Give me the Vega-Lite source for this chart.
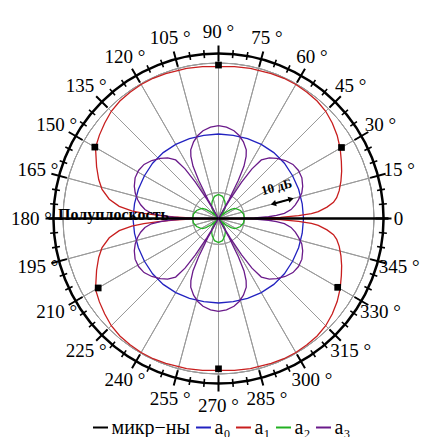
{
  "$schema": "https://vega.github.io/schema/vega-lite/v6.json",
  "width": 400,
  "height": 400,
  "autosize": {"type": "none"},
  "padding": {"left": 18.5, "top": 18.5, "right": 18.5, "bottom": 18.5},
  "background": "white",
  "config": {
    "view": {"stroke": null},
    "legend": {
      "orient": "none", "legendX": 72, "legendY": 399, "direction": "horizontal",
      "symbolType": "stroke", "symbolSize": 225, "symbolStrokeWidth": 2,
      "labelFont": "Liberation Serif", "labelFontSize": 20, "labelColor": "black",
      "labelOffset": 1, "columnPadding": 1, "padding": 0
    }
  },
  "datasets": {
    "rings": [{"v": -50}, {"v": -40}, {"v": -30}, {"v": -20}, {"v": -10}, {"v": 0}],
    "lab": [
      {"a": 0, "t": "0"}, {"a": 15, "t": "15 °"}, {"a": 30, "t": "30 °"}, {"a": 45, "t": "45 °"},
      {"a": 60, "t": "60 °"}, {"a": 75, "t": "75 °"}, {"a": 90, "t": "90 °"}, {"a": 105, "t": "105 °"},
      {"a": 120, "t": "120 °"}, {"a": 135, "t": "135 °"}, {"a": 150, "t": "150 °"}, {"a": 165, "t": "165 °"},
      {"a": 180, "t": "180 °"}, {"a": 195, "t": "195 °"}, {"a": 210, "t": "210 °"}, {"a": 225, "t": "225 °"},
      {"a": 240, "t": "240 °"}, {"a": 255, "t": "255 °"}, {"a": 270, "t": "270 °"}, {"a": 285, "t": "285 °"},
      {"a": 300, "t": "300 °"}, {"a": 315, "t": "315 °"}, {"a": 330, "t": "330 °"}, {"a": 345, "t": "345 °"}
    ],
    "minor": [
      {"a": 5}, {"a": 10}, {"a": 20}, {"a": 25}, {"a": 35}, {"a": 40}, {"a": 50}, {"a": 55},
      {"a": 65}, {"a": 70}, {"a": 80}, {"a": 85}, {"a": 95}, {"a": 100}, {"a": 110}, {"a": 115},
      {"a": 125}, {"a": 130}, {"a": 140}, {"a": 145}, {"a": 155}, {"a": 160}, {"a": 170}, {"a": 175},
      {"a": 185}, {"a": 190}, {"a": 200}, {"a": 205}, {"a": 215}, {"a": 220}, {"a": 230}, {"a": 235},
      {"a": 245}, {"a": 250}, {"a": 260}, {"a": 265}, {"a": 275}, {"a": 280}, {"a": 290}, {"a": 295},
      {"a": 305}, {"a": 310}, {"a": 320}, {"a": 325}, {"a": 335}, {"a": 340}, {"a": 350}, {"a": 355}
    ],
    "mics": [
      {"a": 30, "v": -5.2}, {"a": 90, "v": -0.8}, {"a": 150, "v": -4.9},
      {"a": 210, "v": -6.4}, {"a": 270, "v": -2.0}, {"a": 330, "v": -6.9}
    ],
    "curves": [
      {"s":"a₀","a":0,"v":-27.2},{"s":"a₀","a":10,"v":-27.2},{"s":"a₀","a":20,"v":-27.1},{"s":"a₀","a":30,"v":-27.0},
      {"s":"a₀","a":40,"v":-26.8},{"s":"a₀","a":50,"v":-26.8},{"s":"a₀","a":60,"v":-27.0},{"s":"a₀","a":70,"v":-27.2},
      {"s":"a₀","a":80,"v":-27.4},{"s":"a₀","a":90,"v":-27.4},{"s":"a₀","a":100,"v":-27.4},{"s":"a₀","a":110,"v":-27.2},
      {"s":"a₀","a":120,"v":-27.0},{"s":"a₀","a":130,"v":-26.8},{"s":"a₀","a":140,"v":-26.8},{"s":"a₀","a":150,"v":-27.0},
      {"s":"a₀","a":160,"v":-27.1},{"s":"a₀","a":170,"v":-27.1},{"s":"a₀","a":180,"v":-27.0},{"s":"a₀","a":190,"v":-27.1},
      {"s":"a₀","a":200,"v":-27.1},{"s":"a₀","a":210,"v":-27.0},{"s":"a₀","a":220,"v":-26.8},{"s":"a₀","a":230,"v":-26.8},
      {"s":"a₀","a":240,"v":-27.0},{"s":"a₀","a":250,"v":-27.2},{"s":"a₀","a":260,"v":-27.4},{"s":"a₀","a":270,"v":-27.4},
      {"s":"a₀","a":280,"v":-27.4},{"s":"a₀","a":290,"v":-27.2},{"s":"a₀","a":300,"v":-27.0},{"s":"a₀","a":310,"v":-26.8},
      {"s":"a₀","a":320,"v":-26.8},{"s":"a₀","a":330,"v":-27.0},{"s":"a₀","a":340,"v":-27.1},{"s":"a₀","a":350,"v":-27.2},
      {"s":"a₀","a":360,"v":-27.2},

      {"s":"a₁","a":0,"v":-60},{"s":"a₁","a":0.5,"v":-44.6},{"s":"a₁","a":1,"v":-36.1},{"s":"a₁","a":2,"v":-29.1},
      {"s":"a₁","a":3,"v":-24.1},{"s":"a₁","a":4,"v":-21.4},{"s":"a₁","a":6,"v":-17.9},{"s":"a₁","a":8,"v":-15.2},
      {"s":"a₁","a":10,"v":-13.7},{"s":"a₁","a":13,"v":-12.2},{"s":"a₁","a":17,"v":-10.6},{"s":"a₁","a":21,"v":-9.1},
      {"s":"a₁","a":25,"v":-7.7},{"s":"a₁","a":30,"v":-5.8},{"s":"a₁","a":35,"v":-4.1},{"s":"a₁","a":40,"v":-2.7},
      {"s":"a₁","a":45,"v":-1.5},{"s":"a₁","a":50,"v":-0.8},{"s":"a₁","a":55,"v":-0.5},{"s":"a₁","a":60,"v":-0.3},
      {"s":"a₁","a":65,"v":-0.3},{"s":"a₁","a":70,"v":-0.5},{"s":"a₁","a":78,"v":-0.8},{"s":"a₁","a":84,"v":-1.1},
      {"s":"a₁","a":90,"v":-1.4},{"s":"a₁","a":96,"v":-1.1},{"s":"a₁","a":102,"v":-0.8},{"s":"a₁","a":110,"v":-0.5},
      {"s":"a₁","a":115,"v":-0.3},{"s":"a₁","a":120,"v":-0.3},{"s":"a₁","a":125,"v":-0.5},{"s":"a₁","a":130,"v":-0.8},
      {"s":"a₁","a":135,"v":-1.5},{"s":"a₁","a":140,"v":-2.7},{"s":"a₁","a":145,"v":-3.9},{"s":"a₁","a":150,"v":-5.2},
      {"s":"a₁","a":157,"v":-8.9},{"s":"a₁","a":162,"v":-11.4},{"s":"a₁","a":166,"v":-13.7},{"s":"a₁","a":170,"v":-17.2},
      {"s":"a₁","a":173,"v":-21.4},{"s":"a₁","a":175,"v":-26.4},{"s":"a₁","a":176,"v":-31.1},{"s":"a₁","a":177,"v":-36.9},
      {"s":"a₁","a":178,"v":-42.6},{"s":"a₁","a":179,"v":-50.4},{"s":"a₁","a":180,"v":-60},{"s":"a₁","a":181,"v":-50.4},
      {"s":"a₁","a":182,"v":-42.6},{"s":"a₁","a":183,"v":-36.9},{"s":"a₁","a":184,"v":-31.1},{"s":"a₁","a":185,"v":-26.4},
      {"s":"a₁","a":187,"v":-21.4},{"s":"a₁","a":190,"v":-17.2},{"s":"a₁","a":194,"v":-13.7},{"s":"a₁","a":198,"v":-11.4},
      {"s":"a₁","a":203,"v":-8.9},{"s":"a₁","a":210,"v":-5.2},{"s":"a₁","a":215,"v":-3.9},{"s":"a₁","a":220,"v":-2.7},
      {"s":"a₁","a":225,"v":-1.5},{"s":"a₁","a":230,"v":-0.8},{"s":"a₁","a":235,"v":-0.5},{"s":"a₁","a":240,"v":-0.3},
      {"s":"a₁","a":245,"v":-0.3},{"s":"a₁","a":250,"v":-0.5},{"s":"a₁","a":258,"v":-0.8},{"s":"a₁","a":264,"v":-1.1},
      {"s":"a₁","a":270,"v":-1.4},{"s":"a₁","a":276,"v":-1.1},{"s":"a₁","a":282,"v":-0.8},{"s":"a₁","a":290,"v":-0.5},
      {"s":"a₁","a":295,"v":-0.3},{"s":"a₁","a":300,"v":-0.3},{"s":"a₁","a":305,"v":-0.5},{"s":"a₁","a":310,"v":-0.8},
      {"s":"a₁","a":315,"v":-1.5},{"s":"a₁","a":320,"v":-2.7},{"s":"a₁","a":325,"v":-4.1},{"s":"a₁","a":330,"v":-5.8},
      {"s":"a₁","a":335,"v":-7.7},{"s":"a₁","a":339,"v":-9.1},{"s":"a₁","a":343,"v":-10.6},{"s":"a₁","a":347,"v":-12.2},
      {"s":"a₁","a":350,"v":-13.7},{"s":"a₁","a":352,"v":-15.2},{"s":"a₁","a":354,"v":-17.9},{"s":"a₁","a":356,"v":-21.4},
      {"s":"a₁","a":357,"v":-24.1},{"s":"a₁","a":358,"v":-29.1},{"s":"a₁","a":359,"v":-36.1},{"s":"a₁","a":359.5,"v":-44.6},
      {"s":"a₁","a":360,"v":-60},

      {"s":"a₂","a":0,"v":-50.0},{"s":"a₂","a":10,"v":-50.2},{"s":"a₂","a":20,"v":-51.0},{"s":"a₂","a":28,"v":-52.1},
      {"s":"a₂","a":32,"v":-52.7},{"s":"a₂","a":36,"v":-54.0},{"s":"a₂","a":40,"v":-56.1},{"s":"a₂","a":43,"v":-58.1},
      {"s":"a₂","a":45,"v":-60},{"s":"a₂","a":48,"v":-58.8},{"s":"a₂","a":52,"v":-56.9},{"s":"a₂","a":58,"v":-55.0},
      {"s":"a₂","a":63,"v":-54.2},{"s":"a₂","a":70,"v":-52.9},{"s":"a₂","a":80,"v":-51.3},{"s":"a₂","a":90,"v":-50.7},
      {"s":"a₂","a":100,"v":-51.3},{"s":"a₂","a":110,"v":-52.9},{"s":"a₂","a":117,"v":-54.2},{"s":"a₂","a":122,"v":-55.0},
      {"s":"a₂","a":128,"v":-56.9},{"s":"a₂","a":132,"v":-58.8},{"s":"a₂","a":135,"v":-60},{"s":"a₂","a":137,"v":-58.1},
      {"s":"a₂","a":140,"v":-56.1},{"s":"a₂","a":144,"v":-54.0},{"s":"a₂","a":148,"v":-52.7},{"s":"a₂","a":152,"v":-52.1},
      {"s":"a₂","a":160,"v":-51.0},{"s":"a₂","a":170,"v":-50.2},{"s":"a₂","a":180,"v":-50.0},{"s":"a₂","a":190,"v":-50.2},
      {"s":"a₂","a":200,"v":-51.0},{"s":"a₂","a":208,"v":-52.1},{"s":"a₂","a":212,"v":-52.7},{"s":"a₂","a":216,"v":-54.0},
      {"s":"a₂","a":220,"v":-56.1},{"s":"a₂","a":223,"v":-58.1},{"s":"a₂","a":225,"v":-60},{"s":"a₂","a":228,"v":-58.8},
      {"s":"a₂","a":232,"v":-56.9},{"s":"a₂","a":238,"v":-55.0},{"s":"a₂","a":243,"v":-54.2},{"s":"a₂","a":250,"v":-52.9},
      {"s":"a₂","a":260,"v":-51.3},{"s":"a₂","a":270,"v":-50.7},{"s":"a₂","a":280,"v":-51.3},{"s":"a₂","a":290,"v":-52.9},
      {"s":"a₂","a":297,"v":-54.2},{"s":"a₂","a":302,"v":-55.0},{"s":"a₂","a":308,"v":-56.9},{"s":"a₂","a":312,"v":-58.8},
      {"s":"a₂","a":315,"v":-60},{"s":"a₂","a":317,"v":-58.1},{"s":"a₂","a":320,"v":-56.1},{"s":"a₂","a":324,"v":-54.0},
      {"s":"a₂","a":328,"v":-52.7},{"s":"a₂","a":332,"v":-52.1},{"s":"a₂","a":340,"v":-51.0},{"s":"a₂","a":350,"v":-50.2},
      {"s":"a₂","a":360,"v":-50.0},

      {"s":"a₃","a":0,"v":-60},{"s":"a₃","a":0.5,"v":-51.5},{"s":"a₃","a":1,"v":-46.1},{"s":"a₃","a":2,"v":-40.7},
      {"s":"a₃","a":3,"v":-37.6},{"s":"a₃","a":4.5,"v":-34.5},{"s":"a₃","a":7,"v":-31.8},{"s":"a₃","a":10,"v":-29.9},
      {"s":"a₃","a":13,"v":-28.4},{"s":"a₃","a":17,"v":-26.4},{"s":"a₃","a":21,"v":-25.2},{"s":"a₃","a":26,"v":-24.2},
      {"s":"a₃","a":31,"v":-24.0},{"s":"a₃","a":36,"v":-24.5},{"s":"a₃","a":41,"v":-25.9},{"s":"a₃","a":46,"v":-27.7},
      {"s":"a₃","a":50,"v":-29.5},{"s":"a₃","a":53.8,"v":-32.0},{"s":"a₃","a":56,"v":-36.9},{"s":"a₃","a":57.5,"v":-43.4},
      {"s":"a₃","a":59,"v":-51.5},{"s":"a₃","a":60,"v":-60},{"s":"a₃","a":61,"v":-51.5},{"s":"a₃","a":62.5,"v":-43.4},
      {"s":"a₃","a":64,"v":-37.6},{"s":"a₃","a":66,"v":-33.8},{"s":"a₃","a":68,"v":-31.4},{"s":"a₃","a":72,"v":-28.9},
      {"s":"a₃","a":76,"v":-27.0},{"s":"a₃","a":80,"v":-25.6},{"s":"a₃","a":85,"v":-24.6},{"s":"a₃","a":90,"v":-24.2},
      {"s":"a₃","a":95,"v":-24.6},{"s":"a₃","a":100,"v":-25.6},{"s":"a₃","a":104,"v":-27.0},{"s":"a₃","a":108,"v":-28.9},
      {"s":"a₃","a":112,"v":-31.4},{"s":"a₃","a":114,"v":-33.8},{"s":"a₃","a":116,"v":-37.6},{"s":"a₃","a":117.5,"v":-43.4},
      {"s":"a₃","a":119,"v":-51.5},{"s":"a₃","a":120,"v":-60},{"s":"a₃","a":121,"v":-51.5},{"s":"a₃","a":122.5,"v":-43.4},
      {"s":"a₃","a":124,"v":-36.9},{"s":"a₃","a":126.2,"v":-32.0},{"s":"a₃","a":130,"v":-29.5},{"s":"a₃","a":134,"v":-27.7},
      {"s":"a₃","a":139,"v":-25.9},{"s":"a₃","a":144,"v":-24.5},{"s":"a₃","a":149,"v":-24.0},{"s":"a₃","a":154,"v":-24.2},
      {"s":"a₃","a":159,"v":-25.2},{"s":"a₃","a":163,"v":-26.4},{"s":"a₃","a":167,"v":-28.0},{"s":"a₃","a":170,"v":-29.5},
      {"s":"a₃","a":173,"v":-31.4},{"s":"a₃","a":175.5,"v":-34.0},{"s":"a₃","a":177,"v":-37.6},{"s":"a₃","a":178,"v":-40.7},
      {"s":"a₃","a":179,"v":-46.1},{"s":"a₃","a":179.5,"v":-51.5},{"s":"a₃","a":180,"v":-60},{"s":"a₃","a":180.5,"v":-51.5},
      {"s":"a₃","a":181,"v":-46.1},{"s":"a₃","a":182,"v":-40.7},{"s":"a₃","a":183,"v":-37.6},{"s":"a₃","a":184.5,"v":-34.0},
      {"s":"a₃","a":187,"v":-31.4},{"s":"a₃","a":190,"v":-29.5},{"s":"a₃","a":193,"v":-28.0},{"s":"a₃","a":197,"v":-26.4},
      {"s":"a₃","a":201,"v":-25.2},{"s":"a₃","a":206,"v":-24.2},{"s":"a₃","a":211,"v":-24.0},{"s":"a₃","a":216,"v":-24.5},
      {"s":"a₃","a":221,"v":-25.9},{"s":"a₃","a":226,"v":-27.7},{"s":"a₃","a":230,"v":-29.5},{"s":"a₃","a":233.8,"v":-32.0},
      {"s":"a₃","a":236,"v":-36.9},{"s":"a₃","a":237.5,"v":-43.4},{"s":"a₃","a":239,"v":-51.5},{"s":"a₃","a":240,"v":-60},
      {"s":"a₃","a":241,"v":-51.5},{"s":"a₃","a":242.5,"v":-43.4},{"s":"a₃","a":244,"v":-37.6},{"s":"a₃","a":246,"v":-33.8},
      {"s":"a₃","a":248,"v":-31.4},{"s":"a₃","a":252,"v":-28.9},{"s":"a₃","a":256,"v":-27.0},{"s":"a₃","a":260,"v":-25.6},
      {"s":"a₃","a":265,"v":-24.6},{"s":"a₃","a":270,"v":-24.2},{"s":"a₃","a":275,"v":-24.6},{"s":"a₃","a":280,"v":-25.6},
      {"s":"a₃","a":284,"v":-27.0},{"s":"a₃","a":288,"v":-28.9},{"s":"a₃","a":292,"v":-31.4},{"s":"a₃","a":294,"v":-33.8},
      {"s":"a₃","a":296,"v":-37.6},{"s":"a₃","a":297.5,"v":-43.4},{"s":"a₃","a":299,"v":-51.5},{"s":"a₃","a":300,"v":-60},
      {"s":"a₃","a":301,"v":-51.5},{"s":"a₃","a":302.5,"v":-43.4},{"s":"a₃","a":304,"v":-36.9},{"s":"a₃","a":306.2,"v":-32.0},
      {"s":"a₃","a":310,"v":-29.5},{"s":"a₃","a":314,"v":-27.7},{"s":"a₃","a":319,"v":-25.9},{"s":"a₃","a":324,"v":-24.5},
      {"s":"a₃","a":329,"v":-24.0},{"s":"a₃","a":334,"v":-24.2},{"s":"a₃","a":339,"v":-25.2},{"s":"a₃","a":343,"v":-26.4},
      {"s":"a₃","a":347,"v":-28.4},{"s":"a₃","a":350,"v":-29.9},{"s":"a₃","a":353,"v":-31.8},{"s":"a₃","a":355.5,"v":-34.5},
      {"s":"a₃","a":357,"v":-37.6},{"s":"a₃","a":358,"v":-40.7},{"s":"a₃","a":359,"v":-46.1},{"s":"a₃","a":359.5,"v":-51.5},
      {"s":"a₃","a":360,"v":-60}
    ]
  },
  "layer": [
    {
      "data": {"name": "rings"},
      "mark": {"type": "arc", "theta": 0, "theta2": 6.2832, "filled": false, "stroke": "#9a9a9a", "strokeWidth": 1},
      "encoding": {
        "radius": {"field": "v", "type": "quantitative", "scale": {"type": "linear", "domain": [-60, 17.17], "range": [0, 200], "zero": false, "nice": false}}
      }
    },
    {
      "data": {"name": "lab"},
      "mark": {"type": "arc", "radius": 165, "radius2": 0, "filled": false, "stroke": "#9a9a9a", "strokeWidth": 1},
      "encoding": {
        "theta": {"field": "a", "type": "quantitative", "stack": null, "scale": {"type": "linear", "domain": [0, 360], "range": [1.5708, -4.7124], "zero": false, "nice": false}},
        "theta2": {"field": "a"}
      }
    },
    {
      "data": {"values": [{}]},
      "mark": {"type": "arc", "theta": 0, "theta2": 6.2832, "radius": 165, "filled": false, "stroke": "black", "strokeWidth": 2.5}
    },
    {
      "data": {"name": "minor"},
      "mark": {"type": "arc", "radius": 169, "radius2": 161, "filled": false, "stroke": "black", "strokeWidth": 1.6},
      "encoding": {
        "theta": {"field": "a", "type": "quantitative", "stack": null, "scale": {"type": "linear", "domain": [0, 360], "range": [1.5708, -4.7124], "zero": false, "nice": false}},
        "theta2": {"field": "a"}
      }
    },
    {
      "data": {"name": "lab"},
      "mark": {"type": "arc", "radius": 173, "radius2": 157, "filled": false, "stroke": "black", "strokeWidth": 2},
      "encoding": {
        "theta": {"field": "a", "type": "quantitative", "stack": null, "scale": {"type": "linear", "domain": [0, 360], "range": [1.5708, -4.7124], "zero": false, "nice": false}},
        "theta2": {"field": "a"}
      }
    },
    {
      "data": {"name": "curves"},
      "transform": [
        {"calculate": "(datum.v+60)*cos(datum.a*PI/180)", "as": "x"},
        {"calculate": "(datum.v+60)*sin(datum.a*PI/180)", "as": "y"}
      ],
      "mark": {"type": "line", "strokeWidth": 1.3, "interpolate": "linear"},
      "encoding": {
        "x": {"field": "x", "type": "quantitative", "axis": null, "scale": {"domain": [-77.17, 77.17], "zero": false, "nice": false}},
        "y": {"field": "y", "type": "quantitative", "axis": null, "scale": {"domain": [-77.17, 77.17], "zero": false, "nice": false}},
        "order": {"field": "a", "type": "quantitative"},
        "color": {
          "field": "s", "type": "nominal",
          "scale": {"domain": ["микр−ны", "a₀", "a₁", "a₂", "a₃"], "range": ["#000000", "#2222c0", "#c81e1e", "#22b022", "#6a1a8a"]},
          "legend": {"title": null}
        }
      }
    },
    {
      "data": {"values": [{"a": 0}, {"a": 180}]},
      "mark": {"type": "arc", "radius": 170, "radius2": 0, "filled": false, "stroke": "black", "strokeWidth": 2.5},
      "encoding": {
        "theta": {"field": "a", "type": "quantitative", "stack": null, "scale": {"type": "linear", "domain": [0, 360], "range": [1.5708, -4.7124], "zero": false, "nice": false}},
        "theta2": {"field": "a"}
      }
    },
    {
      "data": {"name": "mics"},
      "transform": [
        {"calculate": "(datum.v+60)*cos(datum.a*PI/180)", "as": "x"},
        {"calculate": "(datum.v+60)*sin(datum.a*PI/180)", "as": "y"}
      ],
      "mark": {"type": "point", "shape": "square", "filled": true, "color": "black", "size": 45, "opacity": 1},
      "encoding": {
        "x": {"field": "x", "type": "quantitative", "axis": null, "scale": {"domain": [-77.17, 77.17], "zero": false, "nice": false}},
        "y": {"field": "y", "type": "quantitative", "axis": null, "scale": {"domain": [-77.17, 77.17], "zero": false, "nice": false}}
      }
    },
    {
      "data": {"values": [{"a": 15}]},
      "mark": {"type": "arc", "radius": 75, "radius2": 57, "filled": false, "stroke": "black", "strokeWidth": 2},
      "encoding": {
        "theta": {"field": "a", "type": "quantitative", "stack": null, "scale": {"type": "linear", "domain": [0, 360], "range": [1.5708, -4.7124], "zero": false, "nice": false}},
        "theta2": {"field": "a"}
      }
    },
    {
      "data": {"values": [{"a": 15, "v": -31.0, "h": "out"}, {"a": 15, "v": -38.1, "h": "in"}]},
      "transform": [
        {"calculate": "(datum.v+60)*cos(datum.a*PI/180)", "as": "x"},
        {"calculate": "(datum.v+60)*sin(datum.a*PI/180)", "as": "y"}
      ],
      "mark": {"type": "point", "filled": true, "color": "black", "size": 40, "opacity": 1, "angle": 345},
      "encoding": {
        "x": {"field": "x", "type": "quantitative", "axis": null, "scale": {"domain": [-77.17, 77.17], "zero": false, "nice": false}},
        "y": {"field": "y", "type": "quantitative", "axis": null, "scale": {"domain": [-77.17, 77.17], "zero": false, "nice": false}},
        "shape": {"field": "h", "type": "nominal", "scale": {"domain": ["out", "in"], "range": ["triangle-right", "triangle-left"]}, "legend": null}
      }
    },
    {
      "data": {"name": "lab"},
      "transform": [{"filter": "datum.a != 0"}],
      "mark": {"type": "text", "radius": 187, "font": "Liberation Serif", "fontSize": 19, "color": "black", "align": "center", "baseline": "middle"},
      "encoding": {
        "theta": {"field": "a", "type": "quantitative", "stack": null, "scale": {"type": "linear", "domain": [0, 360], "range": [1.5708, -4.7124], "zero": false, "nice": false}},
        "text": {"field": "t"}
      }
    },
    {
      "data": {"name": "lab"},
      "transform": [{"filter": "datum.a == 0"}],
      "mark": {"type": "text", "radius": 180, "font": "Liberation Serif", "fontSize": 19, "color": "black", "align": "center", "baseline": "middle"},
      "encoding": {
        "theta": {"field": "a", "type": "quantitative", "stack": null, "scale": {"type": "linear", "domain": [0, 360], "range": [1.5708, -4.7124], "zero": false, "nice": false}},
        "text": {"field": "t"}
      }
    },
    {
      "data": {"values": [{"a": 180, "t": "Полуплоскость"}]},
      "mark": {"type": "text", "radius": 105, "font": "Liberation Serif", "fontSize": 16, "fontWeight": "bold", "color": "black", "align": "center", "baseline": "alphabetic", "dy": 1.5},
      "encoding": {
        "theta": {"field": "a", "type": "quantitative", "stack": null, "scale": {"type": "linear", "domain": [0, 360], "range": [1.5708, -4.7124], "zero": false, "nice": false}},
        "text": {"field": "t"}
      }
    },
    {
      "data": {"values": [{"a": 28.3, "t": "10 дБ"}]},
      "mark": {"type": "text", "radius": 66, "font": "Liberation Serif", "fontSize": 13, "fontWeight": "bold", "color": "black", "align": "center", "baseline": "middle", "angle": 345},
      "encoding": {
        "theta": {"field": "a", "type": "quantitative", "stack": null, "scale": {"type": "linear", "domain": [0, 360], "range": [1.5708, -4.7124], "zero": false, "nice": false}},
        "text": {"field": "t"}
      }
    }
  ]
}
